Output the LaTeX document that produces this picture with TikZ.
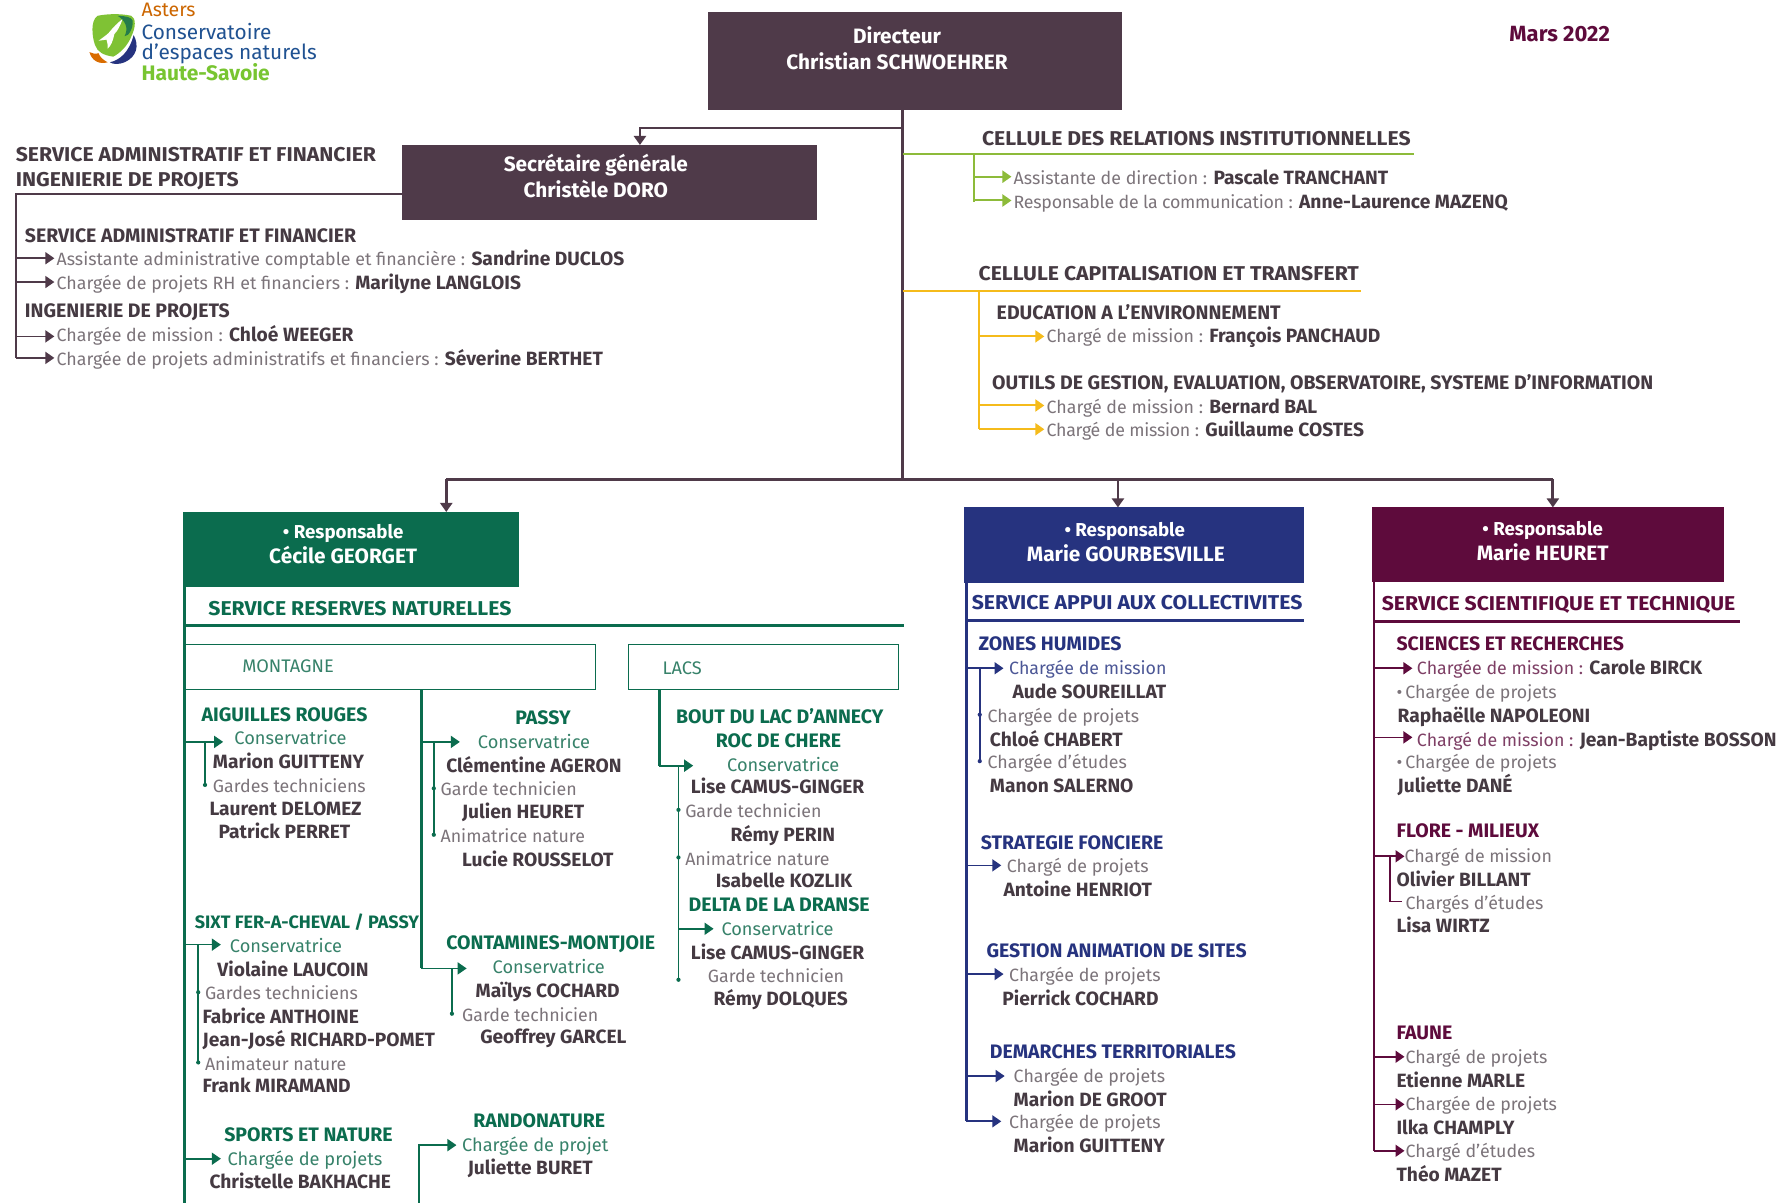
\documentclass[tikz,border=0pt]{standalone}
\usepackage{fontspec}
\setmainfont{Fira Sans}
\newfontfamily\titlefont[FakeStretch=1.06]{Fira Sans}
\usetikzlibrary{arrows.meta}
\definecolor{boxdark}{HTML}{4F3A49}
\definecolor{ink}{HTML}{453A42}
\definecolor{soft}{HTML}{7C747A}
\definecolor{gn}{HTML}{0B6C4E}
\definecolor{gnl}{HTML}{37826A}
\definecolor{bl}{HTML}{26337F}
\definecolor{bll}{HTML}{4C5796}
\definecolor{pu}{HTML}{5E0B3C}
\definecolor{pul}{HTML}{7E3F65}
\definecolor{lime}{HTML}{8DBB3A}
\definecolor{gold}{HTML}{F5BB1B}
\newcommand\nmb[1]{\textcolor{ink}{\fontsize{19.2}{20}\selectfont\bfseries #1}}
\tikzset{
 x=1.1327pt,y=-1.1327pt,
 every node/.style={inner sep=0pt,outer sep=0pt,font=\fontsize{18.2}{20}\selectfont,text height=15.6pt,text depth=0.4pt},
 L/.style={anchor=west},
 nmf/.style={font=\fontsize{19.2}{20}\selectfont\bfseries},
 subf/.style={font=\fontsize{19.5}{20}\selectfont\bfseries},
 ttlf/.style={font=\titlefont\fontsize{20}{20}\selectfont\bfseries},
 nm/.style={L,text=ink,nmf},
 lb/.style={L,text=soft,font=\fontsize{17.8}{20}\selectfont},
 hd/.style={L,text=ink,subf},
 hg/.style={L,text=gn,subf},
 hb/.style={L,text=bl,subf},
 hp/.style={L,text=pu,subf},
 lg/.style={L,text=gnl},
 boxtxt/.style={anchor=center,text=white,font=\fontsize{20.8}{20}\selectfont\bfseries},
 boxsm/.style={anchor=center,text=white,font=\fontsize{18.7}{20}\selectfont\bfseries},
 tip/.style={-{Triangle[length=9pt,width=12pt]}},
 dk/.style={draw=boxdark,line width=2.8pt},
 dkA/.style={dk,tip},
 lnA/.style={draw=boxdark,line width=1.6pt,tip},
 gA/.style={draw=gn,line width=1.7pt,tip,color=gn},
 bA/.style={draw=bl,line width=1.7pt,tip,color=bl},
 pA/.style={draw=pu,line width=1.7pt,tip,color=pu},
 limeA/.style={draw=lime,line width=2pt,tip,color=lime},
 goldA/.style={draw=gold,line width=2pt,tip,color=gold},
 spine/.style={line width=2.7pt},
 sub/.style={line width=1.5pt},
}
\newcommand\tx[5]{\node[#1] (#2) at (#3,#4) {#5};}
\newcommand\arw[5]{\coordinate (#3) at (#4,#5); \draw[#1] (#2 |- #3) -- (#3);}
\newcommand\pnt[3]{\coordinate (#1) at (#2,#3);}
\newcommand\dt[3]{\fill[#1] (#2) ++(0,#3) circle (2.1pt);}
\begin{document}
\begin{tikzpicture}
\useasboundingbox (0,0) rectangle (1568,1062);
\fill[white] (0,0) rectangle (1568,1062);
% logo
\fill[orange!85!black] (79,46) .. controls (81,54) and (88,57) .. (95,55) .. controls (91,53) and (88,50) .. (87,47) .. controls (84,48) and (81,47) .. (79,46) -- cycle;
\fill[bl] (118,31) .. controls (123,40) and (121,50) .. (110,55) .. controls (105,57) and (100,57) .. (97,55) .. controls (106,53) and (114,46) .. (118,31) -- cycle;
\fill[lime!90!green] (86,14) .. controls (95,12) and (108,12) .. (116,14) .. controls (120,16) and (120,24) .. (116,32) .. controls (113,40) and (106,47) .. (100,50) .. controls (92,49) and (86,46) .. (84,40) .. controls (81,32) and (80,18) .. (86,14) -- cycle;
\fill[gn!80!lime] (104,14) .. controls (110,14) and (116,15) .. (117,18) .. controls (118,24) and (114,32) .. (110,32) .. controls (114,24) and (110,18) .. (104,14) -- cycle;
\fill[white] (108,17) .. controls (106,24) and (103,28) .. (101,30) .. controls (100,35) and (98,41) .. (95,43) .. controls (95,39) and (95,37) .. (94,35) -- (87,36) .. controls (91,33) and (94,31) .. (96,29) .. controls (100,24) and (104,20) .. (108,17) -- cycle;
\tx{anchor=west,text=orange!80!black,font=\fontsize{19.5}{20}\selectfont}{lgA}{125}{8}{Asters}
\tx{anchor=west,text=bl!85!cyan,font=\fontsize{20.8}{20}\selectfont}{lgB}{125}{28}{Conservatoire}
\tx{anchor=west,text=bl!85!cyan,font=\fontsize{20.8}{20}\selectfont}{lgC}{125}{46}{d'espaces naturels}
\tx{anchor=west,text=lime!85!green,font=\fontsize{21}{20}\selectfont\bfseries}{lgD}{125}{64}{Haute-Savoie}
% boxes
\path[fill=boxdark] (625,11) rectangle (991,97);
\coordinate (dirS) at (797,97);
\tx{boxtxt}{d1}{792}{32}{Directeur}
\tx{boxtxt}{d2}{792}{55}{Christian SCHWOEHRER}
\tx{anchor=center,text=pu,font=\fontsize{22}{20}\selectfont\bfseries}{mars}{1377}{30}{Mars 2022}
\path[fill=boxdark] (355,128) rectangle (721,194);
\tx{boxtxt}{s1}{526}{145}{Secrétaire générale}
\tx{boxtxt}{s2}{526}{168}{Christèle DORO}
% trunk
\coordinate (trunk) at (797,423);
\draw[dk] (dirS) -- (trunk);
\coordinate (secT) at (565,128);
\coordinate (secJ) at (565,113);
\draw[dkA] (797,113) -- (secJ) -- (secT);
% left service
\pnt{admA}{355}{171}\pnt{admB}{14}{171}\pnt{admC}{14}{316}
\draw[dk,line width=2.2pt] (admA) -- (admB) -- (admC);
\tx{L,text=ink,ttlf}{a1}{14}{136}{SERVICE ADMINISTRATIF ET FINANCIER}
\tx{L,text=ink,ttlf}{a2}{14}{158}{INGENIERIE DE PROJETS}
\tx{hd}{a3}{22}{207}{SERVICE ADMINISTRATIF ET FINANCIER}
\tx{lb}{a4}{50}{228}{Assistante administrative comptable et financière : \nmb{Sandrine DUCLOS}}
\tx{lb}{a5}{50}{249}{Chargée de projets RH et financiers : \nmb{Marilyne LANGLOIS}}
\tx{hd}{a6}{22}{274}{INGENIERIE DE PROJETS}
\tx{lb}{a7}{50}{295}{Chargée de mission : \nmb{Chloé WEEGER}}
\tx{lb}{a8}{50}{316}{Chargée de projets administratifs et financiers : \nmb{Séverine BERTHET}}
\arw{lnA}{admB}{a4a}{48}{228}
\arw{lnA}{admB}{a5a}{48}{249}
\arw{lnA}{admB}{a7a}{48}{297}
\arw{lnA}{admB}{a8a}{48}{316}
% cellule institutionnelle
\tx{L,text=ink,ttlf}{c1}{867}{122}{CELLULE DES RELATIONS INSTITUTIONNELLES}
\pnt{cgA}{797}{136}\pnt{cgB}{1248}{136}\pnt{cgC}{860}{136}\pnt{cgD}{860}{178}
\draw[draw=lime,line width=2.6pt] (cgA) -- (cgB);
\draw[draw=lime,line width=2pt] (cgC) -- (cgD);
\tx{lb}{c2}{895}{156}{Assistante de direction : \nmb{Pascale TRANCHANT}}
\tx{lb}{c3}{895}{177}{{\addfontfeature{LetterSpace=-1.5}Responsable de  la communication :} \nmb{Anne-Laurence MAZENQ}}
\arw{limeA}{cgC}{c2a}{893}{156}
\arw{limeA}{cgC}{c3a}{893}{177}
% cellule capitalisation
\tx{L,text=ink,ttlf}{k1}{864}{241}{CELLULE CAPITALISATION ET TRANSFERT}
\pnt{kgA}{797}{257}\pnt{kgB}{1202}{257}\pnt{kgC}{864}{257}\pnt{kgD}{864}{379}
\draw[draw=gold,line width=2.6pt] (kgA) -- (kgB);
\draw[draw=gold,line width=2pt] (kgC) -- (kgD);
\tx{hd}{k2}{880}{275}{EDUCATION A L’ENVIRONNEMENT}
\tx{lb}{k3}{924}{296}{Chargé de mission : \nmb{François PANCHAUD}}
\tx{hd}{k4}{876}{337}{OUTILS DE GESTION, EVALUATION, OBSERVATOIRE, SYSTEME D’INFORMATION}
\tx{lb}{k5}{924}{358}{Chargé de mission : \nmb{Bernard BAL}}
\tx{lb}{k6}{924}{379}{{\addfontfeature{LetterSpace=-1.5}Chargé de mission :} \nmb{Guillaume COSTES}}
\arw{goldA}{kgC}{k3a}{922}{297}
\arw{goldA}{kgC}{k5a}{922}{358}
\arw{goldA}{kgC}{k6a}{922}{379}
% bottom bar
\pnt{barL}{394}{423}\pnt{barM}{987}{423}\pnt{barR}{1371}{423}
\draw[dk] (barL) -- (barR);
\pnt{gT}{394}{452}\pnt{bT}{987}{448}\pnt{pT}{1371}{448}
\draw[dkA] (barL) -- (gT);
\draw[dkA] (barM) -- (bT);
\draw[dkA] (barR) -- (pT);
% GREEN
\fill[gn] (162,452) rectangle (458,518);
\tx{boxsm}{g1}{303}{469}{\textbullet\ Responsable}
\tx{boxtxt}{g2}{303}{491}{Cécile GEORGET}
\pnt{gsA}{163}{518}\pnt{gsB}{163}{1062}
\draw[draw=gn,spine] (gsA) -- (gsB);
\pnt{grA}{163}{552}\pnt{grB}{798}{552}
\draw[draw=gn,spine] (grA) -- (grB);
\tx{L,text=gn,ttlf}{g3}{184}{537}{SERVICE RESERVES NATURELLES}
\draw[gn,line width=1.4pt] (163,569) rectangle (526,609);
\draw[gn,line width=1.4pt] (555,569) rectangle (793,609);
\tx{lg}{g4}{214}{587}{MONTAGNE}
\tx{lg}{g5}{585}{589}{LACS}
% aiguilles
\tx{hg}{r1}{178}{630}{AIGUILLES ROUGES}
\tx{lg}{r2}{207}{651}{Conservatrice}
\tx{nm}{r3}{188}{672}{Marion GUITTENY}
\tx{lb}{r4}{188}{693}{Gardes techniciens}
\tx{nm}{r5}{185}{713}{Laurent DELOMEZ}
\tx{nm}{r6}{193}{734}{Patrick PERRET}
\arw{gA}{gsA}{r2a}{197}{655}
\pnt{r2v}{181}{655}\pnt{r4v}{181}{693}
\draw[draw=gn,sub] (r2v) -- (r4v); \dt{gn}{r4v}{0}
% sixt
\tx{hg,font=\fontsize{18}{20}\selectfont\bfseries}{x1}{172}{813}{SIXT FER-A-CHEVAL / PASSY}
\tx{lg}{x2}{203}{834}{Conservatrice}
\tx{nm}{x3}{192}{855}{Violaine LAUCOIN}
\tx{lb}{x4}{181}{876}{Gardes techniciens}
\tx{nm}{x5}{179}{897}{Fabrice ANTHOINE}
\tx{nm}{x6}{179}{917}{Jean-José RICHARD-POMET}
\tx{lb}{x7}{181}{938}{Animateur nature}
\tx{nm}{x8}{179}{958}{Frank MIRAMAND}
\arw{gA}{gsA}{x2a}{195}{834}
\pnt{x2v}{175}{834}\pnt{x4v}{175}{876}\pnt{x7v}{175}{938}
\draw[draw=gn,sub] (x2v) -- (x7v); \dt{gn}{x4v}{0}\dt{gn}{x7v}{0}
% sports
\tx{hg}{o1}{198}{1001}{SPORTS ET NATURE}
\tx{lg}{o2}{201}{1022}{Chargée de projets}
\tx{nm}{o3}{185}{1043}{Christelle BAKHACHE}
\arw{gA}{gsA}{o2a}{195}{1023}
% randonature
\tx{hg}{n1}{418}{989}{RANDONATURE}
\tx{lg}{n2}{408}{1010}{Chargée de projet}
\tx{nm}{n3}{413}{1030}{Juliette BURET}
\pnt{n4}{370}{1062}\pnt{n5}{370}{1011}\pnt{n6}{403}{1011}
\draw[gA] (n4) -- (n5) -- (n6);
% passy
\pnt{msA}{372}{609}\pnt{msB}{372}{855}
\draw[draw=gn,spine] (msA) -- (msB);
\tx{hg}{p1}{455}{633}{PASSY}
\tx{lg}{p2}{422}{654}{Conservatrice}
\tx{nm}{p3}{394}{675}{Clémentine AGERON}
\tx{lb}{p4}{389}{696}{Garde technicien}
\tx{nm}{p5}{408}{716}{Julien HEURET}
\tx{lb}{p6}{389}{737}{Animatrice nature}
\tx{nm}{p7}{408}{758}{Lucie ROUSSELOT}
\arw{gA}{msA}{p2a}{406}{655}
\pnt{p2v}{383}{655}\pnt{p4v}{383}{696}\pnt{p6v}{383}{737}
\draw[draw=gn,sub] (p2v) -- (p6v); \dt{gn}{p4v}{0}\dt{gn}{p6v}{0}
% contamines
\tx{hg}{t1}{394}{832}{CONTAMINES-MONTJOIE}
\tx{lg}{t2}{435}{853}{Conservatrice}
\tx{nm}{t3}{420}{874}{Maïlys COCHARD}
\tx{lb}{t4}{408}{895}{Garde technicien}
\tx{nm}{t5}{424}{915}{Geoffrey GARCEL}
\arw{gA}{msA}{t2a}{412}{855}
\pnt{t2v}{399}{855}\pnt{t4v}{399}{895}
\draw[draw=gn,sub] (t2v) -- (t4v); \dt{gn}{t4v}{0}
% lacs
\pnt{lsA}{582}{609}\pnt{lsB}{582}{676}
\draw[draw=gn,spine] (lsA) -- (lsB);
\arw{gA}{lsB}{l3a}{612}{676}
\tx{hg}{l1}{597}{632}{BOUT DU LAC D’ANNECY}
\tx{hg}{l2}{632}{653}{ROC DE CHERE}
\tx{lg}{l3}{642}{674}{Conservatrice}
\tx{nm}{l4}{610}{694}{Lise CAMUS-GINGER}
\tx{lb}{l5}{605}{715}{Garde technicien}
\tx{nm}{l6}{645}{736}{Rémy PERIN}
\tx{lb}{l7}{605}{757}{Animatrice nature}
\tx{nm}{l8}{632}{777}{Isabelle KOZLIK}
\tx{hg}{l9}{608}{798}{DELTA DE LA DRANSE}
\tx{lg}{l10}{637}{819}{Conservatrice}
\tx{nm}{l11}{610}{840}{Lise CAMUS-GINGER}
\tx{lb}{l12}{625}{861}{Garde technicien}
\tx{nm}{l13}{630}{881}{Rémy DOLQUES}
\pnt{lvA}{599}{676}\pnt{lvB}{599}{865}\pnt{lvC}{599}{715}\pnt{lvD}{599}{757}
\draw[draw=gn,sub] (lvA) -- (lvB); \dt{gn}{lvB}{0}\dt{gn}{lvC}{0}\dt{gn}{lvD}{0}
\arw{gA}{lvA}{l10a}{630}{820}
% BLUE
\fill[bl] (851,448) rectangle (1151,515);
\tx{boxsm}{b1}{993}{467}{\textbullet\ Responsable}
\tx{boxtxt}{b2}{994}{489}{Marie GOURBESVILLE}
\pnt{bsA}{853}{515}\pnt{bsB}{853}{990}
\draw[draw=bl,spine] (bsA) -- (bsB);
\pnt{brA}{853}{548}\pnt{brB}{1151}{548}
\draw[draw=bl,spine] (brA) -- (brB);
\tx{L,text=bl,ttlf}{b3}{858}{531}{SERVICE APPUI AUX COLLECTIVITES}
\tx{hb}{z1}{864}{568}{ZONES HUMIDES}
\tx{L,text=bll,font=\fontsize{17.8}{20}\selectfont}{z2}{891}{589}{Chargée de mission}
\tx{nm}{z3}{894}{610}{Aude SOUREILLAT}
\tx{lb}{z4}{872}{631}{Chargée de projets}
\tx{nm}{z5}{874}{652}{Chloé CHABERT}
\tx{lb}{z6}{872}{672}{Chargée d’études}
\tx{nm}{z7}{874}{693}{Manon SALERNO}
\arw{bA}{bsA}{z2a}{886}{590}
\pnt{z2v}{865}{590}\pnt{z4v}{865}{631}\pnt{z6v}{865}{672}
\draw[draw=bl,sub] (z2v) -- (z6v); \dt{bl}{z4v}{0}\dt{bl}{z6v}{0}
\tx{hb}{f1}{866}{743}{STRATEGIE FONCIERE}
\tx{lb}{f2}{889}{764}{Chargé de projets}
\tx{nm}{f3}{886}{785}{Antoine HENRIOT}
\arw{bA}{bsA}{f2a}{884}{764}
\tx{hb}{e1}{871}{839}{GESTION ANIMATION DE SITES}
\tx{lb}{e2}{891}{860}{Chargée de projets}
\tx{nm}{e3}{885}{881}{Pierrick COCHARD}
\arw{bA}{bsA}{e2a}{886}{860}
\tx{hb}{m1}{874}{928}{DEMARCHES TERRITORIALES}
\tx{lb}{m2}{895}{949}{Chargée de projets}
\tx{nm}{m3}{895}{970}{Marion DE GROOT}
\tx{lb}{m4}{891}{990}{Chargée de projets}
\tx{nm}{m5}{895}{1011}{Marion GUITTENY}
\arw{bA}{bsA}{m2a}{887}{950}
\arw{bA}{bsA}{m4a}{884}{990}
% PURPLE
\fill[pu] (1211,448) rectangle (1522,514);
\tx{boxsm}{u1}{1362}{466}{\textbullet\ Responsable}
\tx{boxtxt}{u2}{1362}{488}{Marie HEURET}
\pnt{usA}{1213}{514}\pnt{usB}{1213}{1016}
\draw[draw=pu,spine] (usA) -- (usB);
\pnt{urA}{1213}{549}\pnt{urB}{1536}{549}
\draw[draw=pu,spine] (urA) -- (urB);
\tx{L,text=pu,ttlf}{u3}{1220}{532}{SERVICE SCIENTIFIQUE ET TECHNIQUE}
\tx{hp}{h1}{1233}{568}{SCIENCES ET RECHERCHES}
\tx{L,text=pul,font=\fontsize{17.8}{20}\selectfont}{h2}{1251}{589}{Chargée de mission : \nmb{Carole BIRCK}}
\tx{lb}{h3}{1233}{610}{\textbullet\,Chargée de projets}
\tx{nm}{h4}{1234}{631}{Raphaëlle NAPOLEONI}
\tx{L,text=pul,font=\fontsize{17.8}{20}\selectfont}{h5}{1251}{652}{Chargé de mission : \nmb{Jean-Baptiste BOSSON}}
\tx{lb}{h6}{1233}{672}{\textbullet\,Chargée de projets}
\tx{nm}{h7}{1234}{693}{Juliette DANÉ}
\arw{pA}{usA}{h2a}{1247}{590}
\arw{pA}{usA}{h5a}{1247}{651}
\tx{hp}{w1}{1233}{733}{FLORE - MILIEUX}
\tx{lb}{w2}{1240}{755}{Chargé de mission}
\tx{nm}{w3}{1233}{776}{Olivier BILLANT}
\tx{lb}{w4}{1241}{796}{Chargés d’études}
\tx{nm}{w5}{1233}{817}{Lisa WIRTZ}
\arw{pA}{usA}{w2a}{1240}{756}
\pnt{w2v}{1227}{756}\pnt{w4v}{1227}{796}\pnt{w4e}{1238}{796}
\draw[draw=pu,sub] (w2v) -- (w4v) -- (w4e);
\tx{hp}{v1}{1233}{911}{FAUNE}
\tx{lb}{v2}{1241}{932}{Chargé de projets}
\tx{nm}{v3}{1233}{953}{Etienne MARLE}
\tx{lb}{v4}{1241}{974}{Chargée de projets}
\tx{nm}{v5}{1233}{995}{Ilka CHAMPLY}
\tx{lb}{v6}{1241}{1015}{Chargé d’études}
\tx{nm}{v7}{1233}{1036}{Théo MAZET}
\arw{pA}{usA}{v2a}{1240}{933}
\arw{pA}{usA}{v4a}{1240}{975}
\arw{pA}{usA}{v6a}{1240}{1016}
\end{tikzpicture}
\end{document}
